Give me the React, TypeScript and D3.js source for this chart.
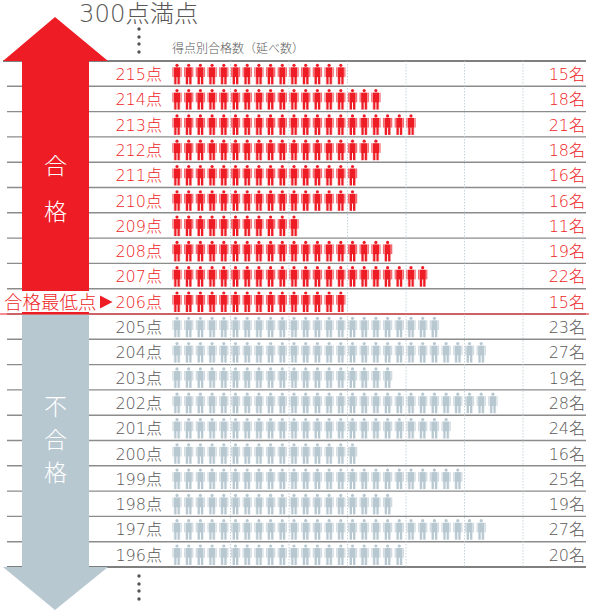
import * as d3 from 'd3';

const scores = [215, 214, 213, 212, 211, 210, 209, 208, 207, 206, 205, 204, 203, 202, 201, 200, 199, 198, 197, 196];
const counts = [15, 18, 21, 18, 16, 16, 11, 19, 22, 15, 23, 27, 19, 28, 24, 16, 25, 19, 27, 20];
const passMark = 206;
const gridTicks = [5, 10, 15, 20, 25, 30];

const RED = '#ee1c25';
const GREY = '#b8c8d1';
const TEXT = '#595757';
const FONT = '"DejaVu Sans", "Noto Sans CJK JP", sans-serif';

const width = 589;
const height = 610;

// one row for each score
const rowScale = d3.scaleBand<number>().domain(scores).range([61, 567]);
// one slot for each person
const personScale = d3.scaleLinear().domain([0, 30]).range([172, 523]);

function Person({ x, y, color }: { x: number; y: number; color: string }) {
  return (
    <g transform={`translate(${x},${y})`} fill={color}>
      <circle cx={4.7} cy={1.6} r={1.6} />
      <rect x={1.6} y={3.6} width={6.2} height={9.8} />
      <rect x={0} y={3.6} width={1.3} height={9.6} opacity={0.65} />
      <rect x={8.1} y={3.6} width={1.3} height={9.6} opacity={0.65} />
      <rect x={2} y={13} width={2.2} height={7.6} />
      <rect x={5.2} y={13} width={2.2} height={7.6} />
      <rect x={1.4} y={13} width={0.6} height={7.6} opacity={0.4} />
      <rect x={7.4} y={13} width={0.6} height={7.6} opacity={0.4} />
    </g>
  );
}

export default function App() {
  const band = rowScale.bandwidth();
  const passBottom = rowScale(passMark)! + band;
  const rowLines = [61, ...scores.map(s => rowScale(s)! + band)];

  return (
    <svg
      width={width}
      height={height}
      style={{ position: 'absolute', left: 0, top: 0 }}
      fontFamily={FONT}
    >
      <rect width={width} height={height} fill="#fff" />

      {/* row lines */}
      {rowLines.map((y, i) => (
        <line
          key={i}
          x1={i === 0 ? 3 : 7}
          x2={586}
          y1={y}
          y2={y}
          stroke={i === 0 || i === rowLines.length - 1 ? '#555' : '#8c8c8c'}
          strokeWidth={1.4}
        />
      ))}

      {/* dotted guides */}
      {gridTicks.map(t => (
        <line
          key={t}
          x1={personScale(t)}
          x2={personScale(t)}
          y1={61}
          y2={567}
          stroke="#b9c9d2"
          strokeWidth={0.8}
          strokeDasharray="1.5 1.5"
        />
      ))}

      {/* arrows */}
      <path d={`M55 17 L108 61 L89 61 L89 ${passBottom} L22 ${passBottom} L22 61 L3 61 Z`} fill={RED} />
      <path d={`M22 ${passBottom} L89 ${passBottom} L89 567 L108 567 L55 610 L3 567 L22 567 Z`} fill={GREY} />
      <rect x={0} y={291} width={115} height={21} fill="#fff" />

      <line x1={0} x2={width} y1={passBottom} y2={passBottom} stroke={RED} strokeWidth={1.2} />

      {/* arrow labels */}
      <text x={55.5} y={174} textAnchor="middle" fontSize={23} fontWeight={300} fill="#fff">合</text>
      <text x={55.5} y={220} textAnchor="middle" fontSize={23} fontWeight={300} fill="#fff">格</text>
      <text x={55.5} y={415} textAnchor="middle" fontSize={23} fontWeight={300} fill="#fff">不</text>
      <text x={55.5} y={448} textAnchor="middle" fontSize={23} fontWeight={300} fill="#fff">合</text>
      <text x={55.5} y={481} textAnchor="middle" fontSize={23} fontWeight={300} fill="#fff">格</text>

      <text x={4} y={309} fontSize={18.5} fontWeight={300} fill={RED}>合格最低点</text>
      <path d="M100 295.5 L112.5 302 L100 308.5 Z" fill={RED} />

      {/* rows */}
      {scores.map((s, i) => {
        const y = rowScale(s)!;
        const color = s >= passMark ? RED : GREY;
        const labelColor = s >= passMark ? RED : TEXT;
        return (
          <g key={s}>
            <text x={162} y={y + 19} textAnchor="end" fontSize={16} fontWeight={200} fill={labelColor}>
              {s}点
            </text>
            {d3.range(counts[i]).map(n => (
              <Person key={n} x={personScale(n) + 0.3} y={y + 2.7} color={color} />
            ))}
            <text x={585} y={y + 19} textAnchor="end" fontSize={16} fontWeight={200} fill={labelColor}>
              {counts[i]}名
            </text>
          </g>
        );
      })}

      {/* header */}
      <text x={79} y={22} fontSize={24.3} fontWeight={200} fill={TEXT}>300点満点</text>
      <text x={172} y={53} fontSize={12} fontWeight={300} fill={TEXT}>得点別合格数（延べ数）</text>

      {/* ellipsis dots */}
      {[29, 37, 44, 52, 576, 584, 591, 599].map(y => (
        <circle key={y} cx={139} cy={y} r={1.7} fill="#555" />
      ))}
    </svg>
  );
}
